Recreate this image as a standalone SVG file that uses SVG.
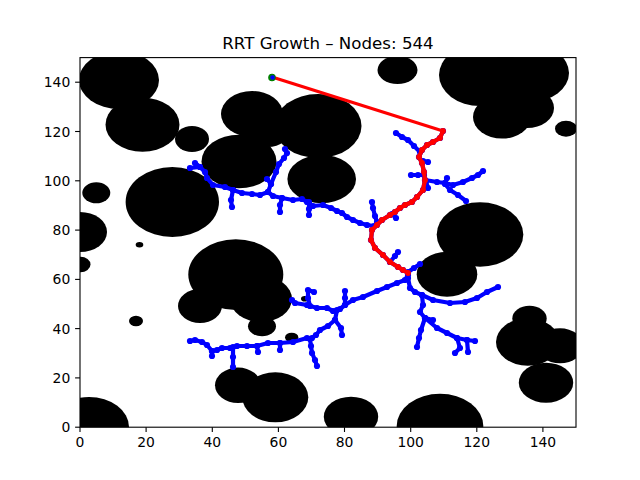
<svg xmlns="http://www.w3.org/2000/svg" width="640" height="480" viewBox="0 0 640 480">
<defs>
<style>
text{font-family:"DejaVu Sans","Liberation Sans",sans-serif;fill:#000}
.t{font-size:13.9px}
.tx{text-anchor:middle}
.ty{text-anchor:end}
.obs ellipse{fill:#000}
.tree polyline{fill:none;stroke:#0000ff;stroke-width:4.2;stroke-linejoin:round;stroke-linecap:round;marker-start:url(#bd);marker-mid:url(#bd);marker-end:url(#bd)}
.path{fill:none;stroke:#ff0000;stroke-width:4.2;stroke-linejoin:round;stroke-linecap:round;marker-start:url(#rd);marker-mid:url(#rd);marker-end:url(#rd)}
.tick{stroke:#000;stroke-width:1.1}
</style>
<marker id="bd" markerUnits="userSpaceOnUse" markerWidth="8" markerHeight="8" refX="4" refY="4" viewBox="0 0 8 8"><circle cx="4" cy="4" r="3.1" fill="#0000ff"/></marker>
<marker id="rd" markerUnits="userSpaceOnUse" markerWidth="8" markerHeight="8" refX="4" refY="4" viewBox="0 0 8 8"><circle cx="4" cy="4" r="2.9" fill="#ff0000"/></marker>
<clipPath id="ax"><rect x="80" y="57.6" width="496" height="369.6"/></clipPath>
</defs>
<rect width="640" height="480" fill="#fff"/>
<text x="328" y="49.3" style="font-size:16.67px" text-anchor="middle">RRT Growth – Nodes: 544</text>
<g clip-path="url(#ax)">
<g id="obstacles" class="obs">
<ellipse cx="119" cy="80" rx="40" ry="29"/>
<ellipse cx="142.5" cy="124.7" rx="37" ry="27"/>
<ellipse cx="192" cy="139" rx="17" ry="13"/>
<ellipse cx="96.3" cy="192.8" rx="14" ry="10.5"/>
<ellipse cx="172.3" cy="202" rx="46.7" ry="35"/>
<ellipse cx="80" cy="232" rx="27" ry="20"/>
<ellipse cx="80.5" cy="264.5" rx="10" ry="7.8"/>
<ellipse cx="139.5" cy="244.8" rx="3.8" ry="2.7"/>
<ellipse cx="136" cy="321" rx="7" ry="5.3"/>
<ellipse cx="235.8" cy="274.6" rx="47.5" ry="35.3"/>
<ellipse cx="200" cy="306" rx="22" ry="17"/>
<ellipse cx="261" cy="299" rx="31" ry="23"/>
<ellipse cx="262" cy="326.3" rx="14" ry="10"/>
<ellipse cx="304.7" cy="298.8" rx="3.7" ry="2.8"/>
<ellipse cx="291.7" cy="337.5" rx="6.7" ry="4.8"/>
<ellipse cx="238" cy="385.3" rx="23" ry="17.7"/>
<ellipse cx="275.3" cy="397.3" rx="33" ry="25"/>
<ellipse cx="89" cy="427" rx="40" ry="30"/>
<ellipse cx="351" cy="416.7" rx="27.2" ry="20"/>
<ellipse cx="440" cy="426" rx="43.3" ry="32.2"/>
<ellipse cx="252" cy="114" rx="31" ry="23"/>
<ellipse cx="268" cy="130" rx="22" ry="17"/>
<ellipse cx="239" cy="161.5" rx="37.5" ry="26.7"/>
<ellipse cx="318" cy="126" rx="43.5" ry="32"/>
<ellipse cx="321.7" cy="179" rx="34.3" ry="24.2"/>
<ellipse cx="397.5" cy="70" rx="20" ry="14"/>
<ellipse cx="480" cy="75" rx="41" ry="31"/>
<ellipse cx="530" cy="73" rx="39" ry="29"/>
<ellipse cx="502" cy="117" rx="29" ry="21.6"/>
<ellipse cx="527" cy="108" rx="27" ry="20"/>
<ellipse cx="566" cy="128.7" rx="11" ry="8"/>
<ellipse cx="480" cy="234.5" rx="43.3" ry="32.2"/>
<ellipse cx="447" cy="274.2" rx="30.3" ry="22.5"/>
<ellipse cx="529.5" cy="318.5" rx="17.2" ry="12.8"/>
<ellipse cx="527.8" cy="342" rx="31.8" ry="23.7"/>
<ellipse cx="560" cy="345.8" rx="23.5" ry="17.5"/>
<ellipse cx="546" cy="382.7" rx="27.2" ry="20"/>
</g>
<g id="tree" class="tree">
<polyline points="195,163 200,167 205,172 207,178 213,185 225,187 233,190 242,193 252,194 260,195 268,192 273,196 282,198 293,200 302,199 307,202 313,206 323,205 331,208 337,211 342,213 347,217 353,220 360,223 367,225 374,226"/>
<polyline points="200,167 190,168"/>
<polyline points="233,190 231,200 232,207"/>
<polyline points="268,192 271,184 276,172 279,164 284,158 287,153 285,149"/>
<polyline points="271,184 267,179"/>
<polyline points="282,198 280,205 280,212"/>
<polyline points="309,202 309,209 309,215"/>
<polyline points="443,131 440,138 433,142 427,145 422,150 419,157 422,163 424,172 425,180 423,190 417,197 412,202 405,205 400,208 395,212 390,215 382,220 377,225 372,230 371,240 375,248 383,255 390,262 398,267 403,270 408,273"/>
<polyline points="396,133 402,137 408,140 414,146 420,152"/>
<polyline points="423,161 428,162"/>
<polyline points="424,175 418,175 411,175"/>
<polyline points="425,180 437,182 445,183 453,185 463,182 472,178 478,175 483,171"/>
<polyline points="445,183 447,178"/>
<polyline points="445,184 450,190 458,195 466,201"/>
<polyline points="426,181 428,188"/>
<polyline points="372,202 373,208 375,216 377,222"/>
<polyline points="396,218 392,214"/>
<polyline points="390,262 395,256 398,252"/>
<polyline points="408,272 414,268 420,264"/>
<polyline points="408,275 405,280 397,283 387,287 377,291 363,297 353,300 345,305 340,309 333,311 327,308 317,308 307,305 295,303 292,300"/>
<polyline points="345,305 345,298 345,291"/>
<polyline points="310,306 308,298 308,290 314,292"/>
<polyline points="337,310 335,320 341,328 342,335"/>
<polyline points="335,320 328,326 320,330 316,335 312,338 307,338 293,342 280,343 268,343 257,346 247,346 237,346 230,348 222,348 217,350 212,351 207,345 202,342 195,340 190,341"/>
<polyline points="233,347 233,357 233,367"/>
<polyline points="310,339 311,346 312,353 315,360 317,366"/>
<polyline points="280,343 280,350"/>
<polyline points="257,346 258,352"/>
<polyline points="212,351 212,356"/>
<polyline points="408,278 410,288 415,292 422,295 433,300 450,303 465,302 477,298 487,292 498,287"/>
<polyline points="422,295 423,305 420,312 425,318 433,320"/>
<polyline points="425,318 421,330 419,338 417,347"/>
<polyline points="425,318 437,328 447,333 457,338 467,340 475,341"/>
<polyline points="457,338 460,348 455,353"/>
<polyline points="467,340 468,352"/>
</g>
<g id="path">
<line x1="272" y1="77" x2="443" y2="131" stroke="#ff0000" stroke-width="3"/>
<polyline class="path" points="443,131 440,138 433,142 427,145 422,150 419,157 422,163 424,172 425,180 423,190 417,197 412,202 405,205 400,208 395,212 390,215 382,220 377,225 372,230 371,240 375,248 383,255 390,262 398,267 403,270 408,273"/>
<circle cx="272" cy="77.5" r="3.8" fill="#008000"/>
<circle cx="272.5" cy="77.5" r="2.3" fill="#0000ff"/>
</g>
</g>
<g id="axes">
<rect x="80" y="57.6" width="496" height="369.6" fill="none" stroke="#000" stroke-width="1.1"/>
<g class="tick">
<line x1="80" y1="427.2" x2="80" y2="432"/>
<line x1="146.1" y1="427.2" x2="146.1" y2="432"/>
<line x1="212.3" y1="427.2" x2="212.3" y2="432"/>
<line x1="278.4" y1="427.2" x2="278.4" y2="432"/>
<line x1="344.5" y1="427.2" x2="344.5" y2="432"/>
<line x1="410.7" y1="427.2" x2="410.7" y2="432"/>
<line x1="476.8" y1="427.2" x2="476.8" y2="432"/>
<line x1="542.9" y1="427.2" x2="542.9" y2="432"/>
<line x1="75.1" y1="427.2" x2="80" y2="427.2"/>
<line x1="75.1" y1="377.9" x2="80" y2="377.9"/>
<line x1="75.1" y1="328.6" x2="80" y2="328.6"/>
<line x1="75.1" y1="279.4" x2="80" y2="279.4"/>
<line x1="75.1" y1="230.1" x2="80" y2="230.1"/>
<line x1="75.1" y1="180.8" x2="80" y2="180.8"/>
<line x1="75.1" y1="131.5" x2="80" y2="131.5"/>
<line x1="75.1" y1="82.2" x2="80" y2="82.2"/>
</g>
<g class="t tx">
<text x="80" y="447">0</text>
<text x="146.1" y="447">20</text>
<text x="212.3" y="447">40</text>
<text x="278.4" y="447">60</text>
<text x="344.5" y="447">80</text>
<text x="410.7" y="447">100</text>
<text x="476.8" y="447">120</text>
<text x="542.9" y="447">140</text>
</g>
<g class="t ty">
<text x="70.3" y="432.2">0</text>
<text x="70.3" y="382.9">20</text>
<text x="70.3" y="333.6">40</text>
<text x="70.3" y="284.4">60</text>
<text x="70.3" y="235.1">80</text>
<text x="70.3" y="185.8">100</text>
<text x="70.3" y="136.5">120</text>
<text x="70.3" y="87.2">140</text>
</g>
</g>
</svg>
